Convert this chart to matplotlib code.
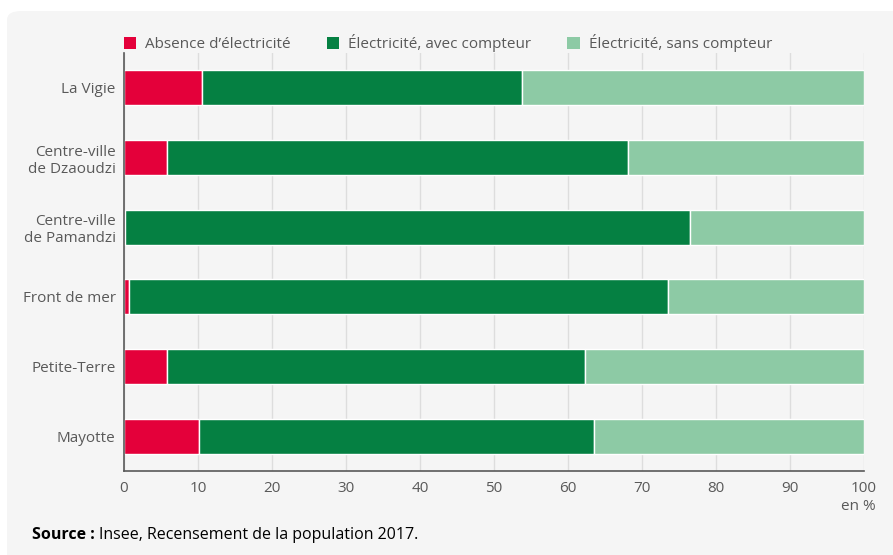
import matplotlib.pyplot as plt
from matplotlib.patches import FancyBboxPatch, Patch

plt.rcParams['font.family'] = ['Open Sans', 'DejaVu Sans']

# Share of dwellings by electricity access, in %
zones = ["La Vigie", "Centre-ville\nde Dzaoudzi", "Centre-ville\nde Pamandzi",
         "Front de mer", "Petite-Terre", "Mayotte"]
sans_electricite = [10.5, 5.8, 0.2, 0.7, 5.8, 10.1]
avec_compteur = [43.3, 62.3, 76.3, 72.8, 56.5, 53.4]
sans_compteur = [46.2, 31.9, 23.5, 26.5, 37.7, 36.5]

series = [
    ("Absence d\u2019électricité", sans_electricite, "#e4003a"),
    ("Électricité, avec compteur", avec_compteur, "#058042"),
    ("Électricité, sans compteur", sans_compteur, "#8dcaa5"),
]

W, H = 893, 555
FS = 11
fig = plt.figure(figsize=(W / 100, H / 100), dpi=100)

# light grey rounded card behind everything
card = FancyBboxPatch((7 / W, -20 / H), (W + 20) / W, (H - 11 + 20) / H,
                      boxstyle="round,pad=0,rounding_size=0.016",
                      transform=fig.transFigure, facecolor="#f5f5f5",
                      edgecolor="none", zorder=-5)
fig.patches.append(card)

ax = fig.add_axes([124 / W, (H - 471) / H, 740 / W, 418 / H])
ax.set_facecolor("none")

ypos = list(range(len(zones)))
left = [0.0] * len(zones)
for label, vals, color in series:
    ax.barh(ypos, vals, left=left, height=0.5, color=color,
            edgecolor="white", linewidth=1, label=label, zorder=3)
    left = [l + v for l, v in zip(left, vals)]

ax.set_xlim(0, 100)
ax.set_ylim(len(zones) - 0.5, -0.5)
ax.set_xticks(range(0, 101, 10))
ax.set_yticks(ypos)
ax.set_yticklabels(zones)
ax.tick_params(axis="both", length=0, labelsize=FS, colors="#595959")
ax.tick_params(axis="x", pad=7)
ax.tick_params(axis="y", pad=6)
for lbl in ax.get_yticklabels():
    lbl.set_horizontalalignment("right")
    lbl.set_multialignment("right")

ax.grid(axis="x", color="#dddddd", linewidth=1, zorder=0)
for s in ["top", "right"]:
    ax.spines[s].set_visible(False)
for s in ["left", "bottom"]:
    ax.spines[s].set_color("#595959")
    ax.spines[s].set_linewidth(1.2)
    ax.spines[s].set_zorder(4)

handles = [Patch(facecolor=c, edgecolor="none", label=l) for l, _, c in series]
fig.legend(handles=handles, loc="center left", ncol=3,
           bbox_to_anchor=(124 / W, 1 - 43 / H), frameon=False,
           handlelength=0.8, handleheight=0.8, handletextpad=0.6,
           columnspacing=2.35, fontsize=FS, labelcolor="#595959",
           borderaxespad=0, borderpad=0)

fig.text(876 / W, 1 - 507 / H, "en %", ha="right", va="center",
         fontsize=FS, color="#595959")
fig.text(32 / W, 1 - 535 / H, "Source :", ha="left", va="center",
         fontsize=11.5, color="black", fontweight="bold")
fig.text(99 / W, 1 - 535 / H, "Insee, Recensement de la population 2017.",
         ha="left", va="center", fontsize=11.5, color="black")

fig.savefig("out.png", dpi=100)
